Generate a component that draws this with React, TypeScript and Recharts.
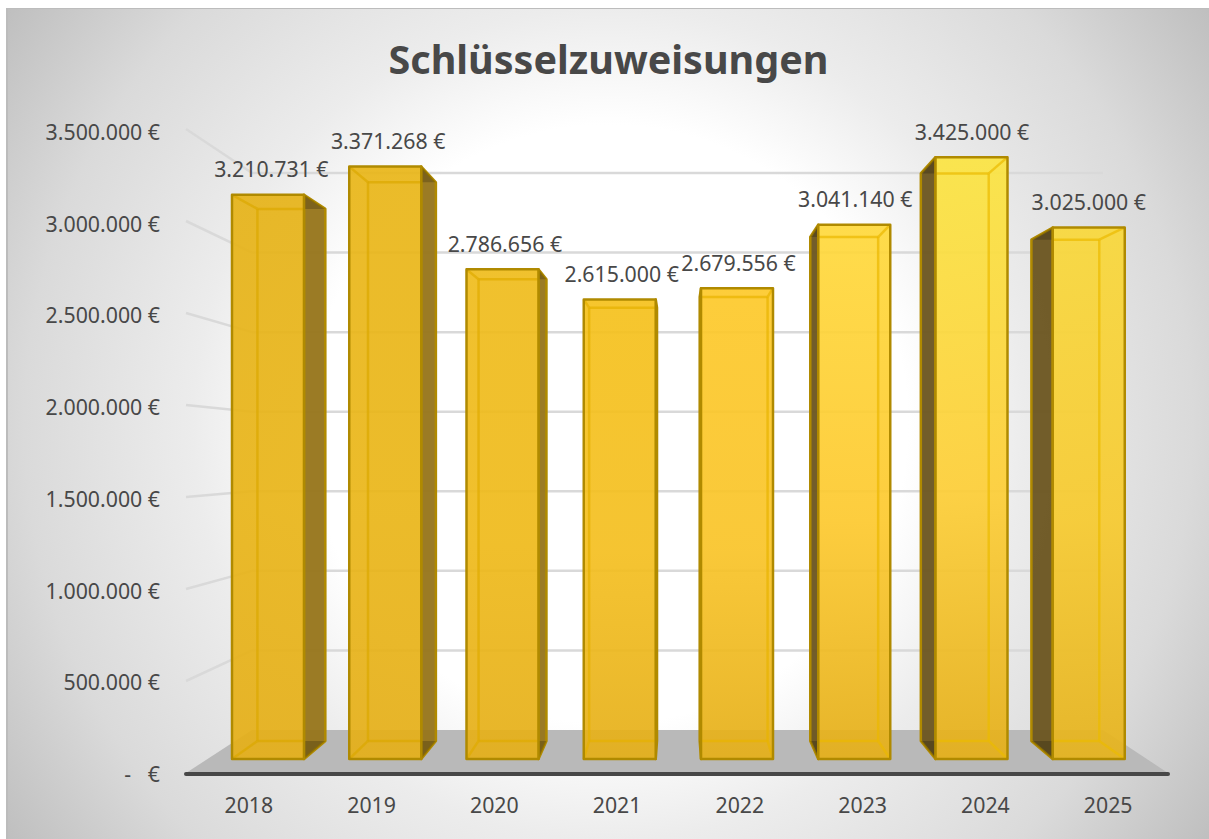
import { BarChart, Bar, XAxis, YAxis, CartesianGrid, LabelList } from "recharts";

const years = ["2018", "2019", "2020", "2021", "2022", "2023", "2024", "2025"];
const amounts = [3210731, 3371268, 2786656, 2615000, 2679556, 3041140, 3425000, 3025000];
const yTicks = [0, 500000, 1000000, 1500000, 2000000, 2500000, 3000000, 3500000];

// bar colours run from muted on the left to bright on the right
const barTop = ["#e6b318", "#e9b618", "#efbc1c", "#f5c11c", "#fdc92a", "#ffd93c", "#fbe442", "#f9d83a"];
const barMid = ["#e9b518", "#eab618", "#efba1a", "#f4bf20", "#f9c428", "#fdc92e", "#fdce36", "#f7ca2e"];
const barBottom = ["#e5af18", "#e5af18", "#e5af18", "#e5af18", "#e5af18", "#e5af18", "#e5af18", "#e6b31c"];
const sideColor = ["#97761c", "#97761c", "#97761c", "#97761c", "#6c5621", "#6c5621", "#6c5621", "#6c5621"];
const innerColor = ["#dca800", "#dca800", "#dfab00", "#e6b000", "#e8b400", "#ebb800", "#ebba00", "#ebba00"];

const data = years.map((year, i) => ({ year, amount: amounts[i] }));

const TEXT = "#484848";
const FONT = "'Noto Sans', 'Open Sans', sans-serif";
const GRID = "#d9d9d9";
const EDGE = "#b08a00";
const LABEL_SIZE = 21.3;

// fake 3D: planes relative to the plane of the bar fronts
const PLOT_LEFT = 209;
const PLOT_RIGHT = 1147;
const PLOT_TOP = 144;
const PLOT_BOTTOM = 759;
const VANISH_X = (PLOT_LEFT + PLOT_RIGHT) / 2;
const VANISH_Y = 442;
const DEPTH = 0.943;
const WALL_LEFT = 252;
const WALL_RIGHT = 1103;
const WALL_BOTTOM = 730;
const FLOOR_LEFT = 186;
const FLOOR_RIGHT = 1168;
const FLOOR_Y = 773;

const backY = (y: number) => WALL_BOTTOM - (PLOT_BOTTOM - y) * (557 / 615);
const frontY = (y: number) => FLOOR_Y - (PLOT_BOTTOM - y) * (644 / 615);

const euro = (v: number) => `${v.toLocaleString("de-DE")} €`;

function GridLine(props: any) {
  const y = props.y1;
  if (Math.abs(y - PLOT_BOTTOM) < 1) {
    return (
      <g key={props.key}>
        <polygon
          points={`${FLOOR_LEFT},${FLOOR_Y} ${WALL_LEFT},${WALL_BOTTOM} ${WALL_RIGHT},${WALL_BOTTOM} ${FLOOR_RIGHT},${FLOOR_Y}`}
          fill="#b9b9b9"
        />
        <line x1={FLOOR_LEFT} x2={FLOOR_RIGHT} y1={FLOOR_Y + 1} y2={FLOOR_Y + 1} stroke="#474747" strokeWidth={4} strokeLinecap="round" />
      </g>
    );
  }
  return (
    <g key={props.key}>
      <line x1={FLOOR_LEFT} y1={frontY(y)} x2={WALL_LEFT} y2={backY(y)} stroke={GRID} strokeWidth={2.5} />
      <line x1={WALL_LEFT} y1={backY(y)} x2={WALL_RIGHT} y2={backY(y)} stroke={GRID} strokeWidth={2.5} />
    </g>
  );
}

function YTick({ y, payload }: any) {
  const label = payload.value === 0 ? "-   €" : euro(payload.value);
  return (
    <text
      x={160}
      y={773.5 - (PLOT_BOTTOM - y) * (642 / 615)}
      textAnchor="end"
      dominantBaseline="central"
      fontSize={LABEL_SIZE}
      fontFamily={FONT}
      fill={TEXT}
      style={{ whiteSpace: "pre" }}
    >
      {label}
    </text>
  );
}

function XTick({ x, payload }: any) {
  return (
    <text
      x={678.5 + (x - VANISH_X) * 1.047}
      y={804}
      textAnchor="middle"
      dominantBaseline="central"
      fontSize={LABEL_SIZE}
      fontFamily={FONT}
      fill={TEXT}
    >
      {payload.value}
    </text>
  );
}

function Bar3D({ x, y, width, height, index }: any) {
  const fl = x;
  const fr = x + width;
  const ft = y;
  const fb = y + height;
  const bl = VANISH_X + (fl - VANISH_X) * DEPTH;
  const br = VANISH_X + (fr - VANISH_X) * DEPTH;
  const bt = VANISH_Y + (ft - VANISH_Y) * DEPTH;
  const bb = VANISH_Y + (fb - VANISH_Y) * DEPTH;
  const showLeft = bl < fl;
  const showRight = br > fr;
  const innerLeft = Math.max(bl, fl);
  const innerRight = Math.min(br, fr);
  const inner = innerColor[index];
  const side = (fx: number, bx: number) => (
    <g>
      <polygon
        points={`${fx},${ft} ${bx},${bt} ${bx},${bb} ${fx},${fb}`}
        fill={sideColor[index]}
        fillOpacity={0.96}
        stroke={EDGE}
        strokeWidth={2.5}
        strokeLinejoin="round"
      />
      <polygon points={`${fx},${ft} ${bx},${bt} ${fx},${bt}`} fill="#000" fillOpacity={0.2} />
      <polygon points={`${fx},${fb} ${bx},${bb} ${fx},${bb}`} fill="#000" fillOpacity={0.2} />
    </g>
  );
  return (
    <g>
      {showLeft && side(fl, bl)}
      {showRight && side(fr, br)}
      <rect x={fl} y={ft} width={width} height={height} fill={`url(#barFill${index})`} fillOpacity={0.92} />
      {/* back edges, seen through the front face */}
      <g stroke={inner} strokeWidth={2.5} strokeOpacity={0.7}>
        <line x1={innerLeft} y1={bt} x2={innerRight} y2={bt} />
        <line x1={innerLeft} y1={bb} x2={innerRight} y2={bb} />
        {!showLeft && <line x1={bl} y1={bt} x2={bl} y2={bb} />}
        {!showRight && <line x1={br} y1={bt} x2={br} y2={bb} />}
        {!showLeft && <line x1={fl} y1={ft} x2={bl} y2={bt} />}
        {!showLeft && <line x1={fl} y1={fb} x2={bl} y2={bb} />}
        {!showRight && <line x1={fr} y1={ft} x2={br} y2={bt} />}
        {!showRight && <line x1={fr} y1={fb} x2={br} y2={bb} />}
      </g>
      <rect x={fl} y={ft} width={width} height={height} fill="none" stroke={EDGE} strokeWidth={2.5} strokeLinejoin="round" />
    </g>
  );
}

function ValueLabel({ x, y, width, value }: any) {
  const cx = x + width / 2;
  return (
    <text
      x={cx + 1.7 - (cx - VANISH_X) * 0.004}
      y={y - 26}
      textAnchor="middle"
      dominantBaseline="central"
      fontSize={LABEL_SIZE}
      fontFamily={FONT}
      fill={TEXT}
    >
      {euro(value)}
    </text>
  );
}

export default function App() {
  return (
    <div style={{ position: "absolute", left: 0, top: 0, width: 1209, height: 839, background: "#fff", overflow: "hidden" }}>
      <div
        style={{
          position: "absolute",
          left: 6,
          top: 8,
          width: 1203,
          height: 831,
          boxSizing: "border-box",
          borderLeft: "2px solid #bcbcbc",
          borderTop: "1.5px solid #bcbcbc",
          background:
            "radial-gradient(circle farthest-corner at 50% 50%, #ffffff 0%, #ffffff 41%, #ececec 57%, #dadada 80%, #bfbfbf 100%)",
        }}
      />
      <div
        style={{
          position: "absolute",
          left: 7,
          top: 33,
          width: 1203,
          textAlign: "center",
          fontFamily: FONT,
          fontWeight: 700,
          fontSize: 39.5,
          lineHeight: "52px",
          color: TEXT,
        }}
      >
        Schlüsselzuweisungen
      </div>
      <div style={{ position: "absolute", left: 0, top: 0 }}>
        <BarChart
          width={1209}
          height={839}
          data={data}
          margin={{ top: PLOT_TOP, right: 1209 - PLOT_RIGHT, bottom: 0, left: 0 }}
        >
          <defs>
            {years.map((year, i) => (
              <linearGradient key={year} id={`barFill${i}`} x1="0" y1="0" x2="0" y2="1">
                <stop offset="0%" stopColor={barTop[i]} />
                <stop offset="55%" stopColor={barMid[i]} />
                <stop offset="100%" stopColor={barBottom[i]} />
              </linearGradient>
            ))}
          </defs>
          <CartesianGrid vertical={false} horizontal={GridLine as any} />
          <XAxis dataKey="year" height={839 - PLOT_BOTTOM} axisLine={false} tickLine={false} tick={XTick as any} interval={0} />
          <YAxis
            width={PLOT_LEFT}
            domain={[0, 3500000]}
            ticks={yTicks}
            axisLine={false}
            tickLine={false}
            tick={YTick as any}
            interval={0}
          />
          <Bar dataKey="amount" barSize={72} isAnimationActive={false} shape={Bar3D as any}>
            <LabelList dataKey="amount" content={ValueLabel as any} />
          </Bar>
        </BarChart>
      </div>
    </div>
  );
}
